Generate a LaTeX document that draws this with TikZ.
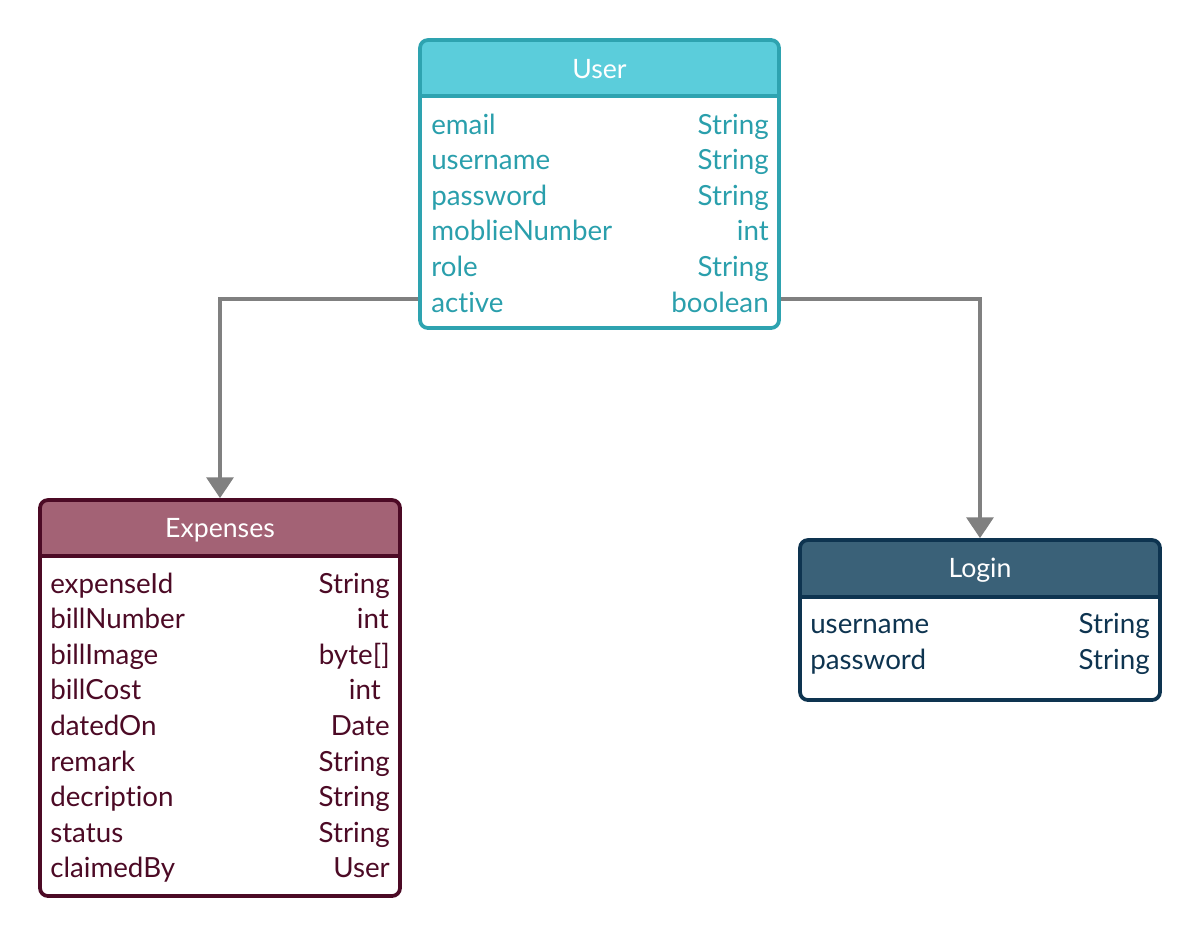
\documentclass[tikz,border=0pt]{standalone}
\usepackage{fontspec}
\setmainfont{Lato}[Ligatures=NoCommon]
\usetikzlibrary{arrows.meta}
\definecolor{uFill}{HTML}{5BCDDB}
\definecolor{uLine}{HTML}{2EA3B0}
\definecolor{uText}{HTML}{2A9FAC}
\definecolor{eFill}{HTML}{A36275}
\definecolor{eLine}{HTML}{4C0A25}
\definecolor{eText}{HTML}{4C0A25}
\definecolor{lFill}{HTML}{3A6178}
\definecolor{lLine}{HTML}{0E3450}
\definecolor{lText}{HTML}{0E3450}
\definecolor{connGray}{HTML}{808080}
\begin{document}
\begin{tikzpicture}[x=0.75pt,y=-0.75pt,
  box/.style={draw, line width=2.8pt, rounded corners=6pt, inner sep=0pt, minimum width=270pt},
  ftxt/.style={font=\fontsize{20.8}{24}\selectfont, inner sep=0pt},
  htxt/.style={font=\fontsize{20}{24}\selectfont, inner sep=0pt, text=white, anchor=base},
  conn/.style={draw=connGray, line width=2.8pt, -{Triangle[width=20pt,length=15.5pt]}},
]
\useasboundingbox (0,0) rectangle (1200,936);

% ---------- User ----------
\begin{scope}
  \clip[rounded corners=6pt] (420,40) rectangle (779,328);
  \fill[uFill] (420,40) rectangle (779,96);
\end{scope}
\node[box, draw=uLine, minimum width=269.25pt, minimum height=216pt] (user) at (599.5,184) {};
\draw[uLine, line width=2.8pt] (user.west |- 0,96) -- (user.east |- 0,96);
\node[htxt] (userT) at (599.5,78) {User};
\foreach \n/\t [count=\i] in {email/String, username/String, password/String, moblieNumber/int, role/String, active/boolean}{
  \node[ftxt, text=uText, anchor=base west] (ul\i) at (431, {134+35.6*(\i-1)}) {\n};
  \node[ftxt, text=uText, anchor=base east] (ur\i) at (769, {134+35.6*(\i-1)}) {\t};
}

% ---------- Expenses ----------
\begin{scope}
  \clip[rounded corners=6pt] (40,500) rectangle (400,896);
  \fill[eFill] (40,500) rectangle (400,556);
\end{scope}
\node[box, draw=eLine, minimum height=297pt] (exp) at (220,698) {};
\draw[eLine, line width=2.8pt] (exp.west |- 0,556) -- (exp.east |- 0,556);
\node[htxt] (expT) at (220,537) {Expenses};
\foreach \n/\t/\r [count=\i] in {expenseId/String/390, billNumber/int/389, billImage/byte[]/390, billCost/int/381, datedOn/Date/390, remark/String/390, decription/String/390, status/String/390, claimedBy/User/390}{
  \node[ftxt, text=eText, anchor=base west] (el\i) at (50, {593+35.6*(\i-1)}) {\n};
  \node[ftxt, text=eText, anchor=base east] (er\i) at (\r, {593+35.6*(\i-1)}) {\t};
}

% ---------- Login ----------
\begin{scope}
  \clip[rounded corners=6pt] (800,540) rectangle (1160,700);
  \fill[lFill] (800,540) rectangle (1160,597);
\end{scope}
\node[box, draw=lLine, minimum height=120pt] (login) at (980,620) {};
\draw[lLine, line width=2.8pt] (login.west |- 0,597) -- (login.east |- 0,597);
\node[htxt] (loginT) at (980,577) {Login};
\foreach \n/\t [count=\i] in {username/String, password/String}{
  \node[ftxt, text=lText, anchor=base west] (ll\i) at (810, {633+36*(\i-1)}) {\n};
  \node[ftxt, text=lText, anchor=base east] (lr\i) at (1150, {633+36*(\i-1)}) {\t};
}

% ---------- Connectors ----------
\draw[conn] (user.west |- 0,299) -| (exp.north);
\draw[conn] (user.east |- 0,299) -| (login.north);
\end{tikzpicture}
\end{document}
